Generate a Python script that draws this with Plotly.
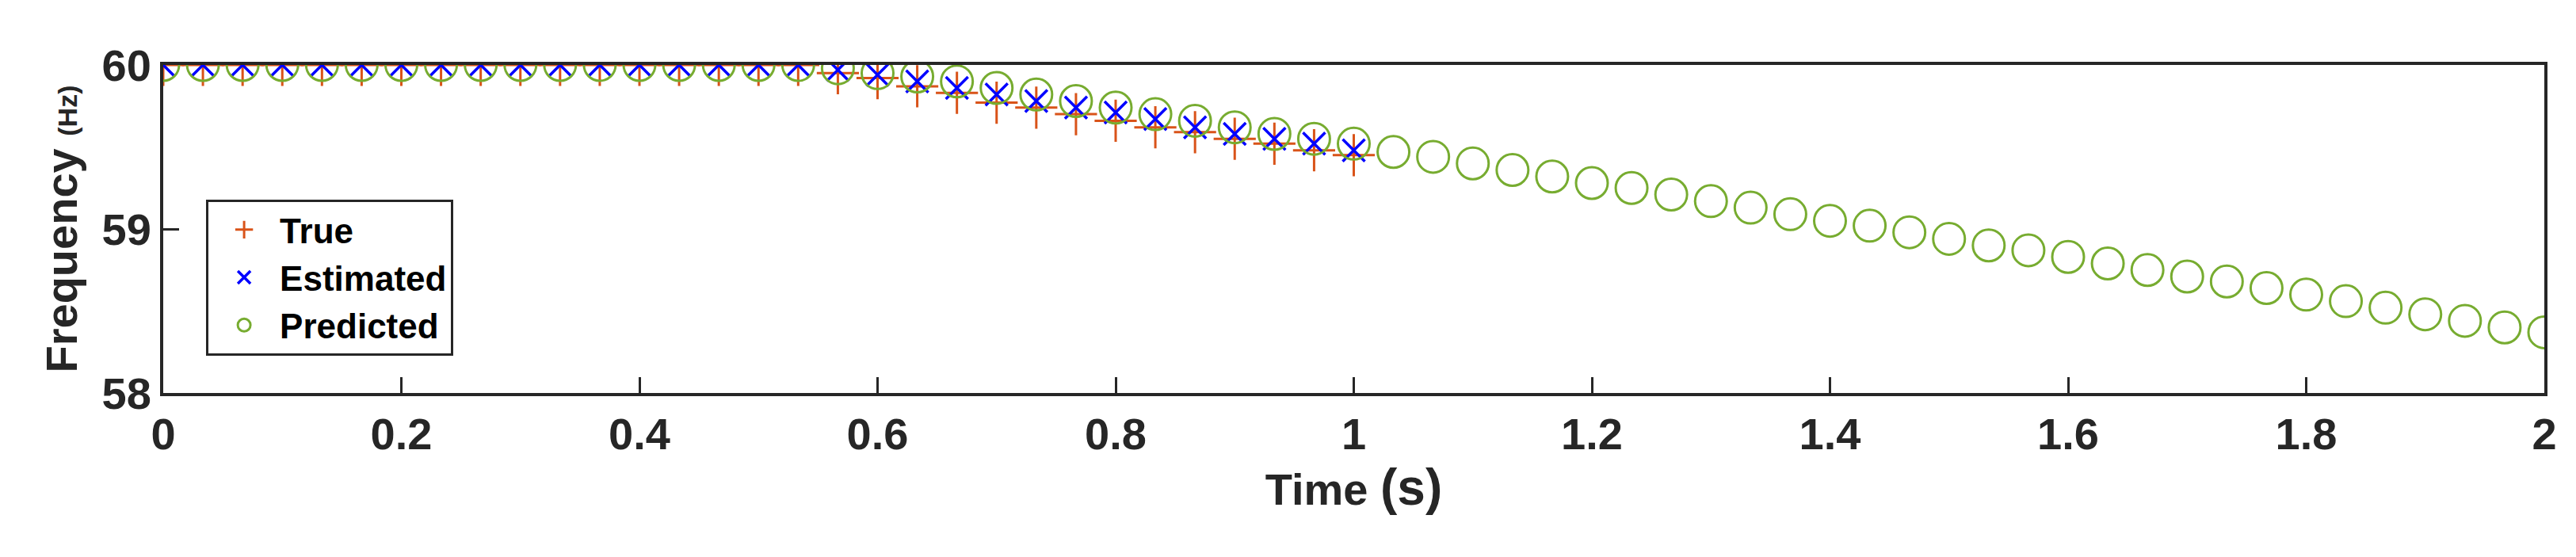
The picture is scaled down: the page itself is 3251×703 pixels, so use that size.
import plotly.graph_objects as go

t_true = [i/30 for i in range(31)]
t_pred = [i/30 for i in range(61)]
true_vals = [60]*17 + [59.95, 59.92, 59.87, 59.83, 59.77, 59.74, 59.70, 59.66, 59.62, 59.59, 59.55, 59.52, 59.48, 59.45]
est_vals = [60]*17 + [59.97, 59.94, 59.90, 59.86, 59.82, 59.78, 59.74, 59.71, 59.67, 59.62, 59.58, 59.55, 59.52, 59.48]
pred_vals = [60]*17 + [59.98, 59.95, 59.93, 59.90, 59.86, 59.82, 59.78, 59.74, 59.70, 59.66, 59.62, 59.58, 59.55, 59.52,
             59.47, 59.44, 59.40, 59.36, 59.32, 59.28, 59.25, 59.21, 59.17, 59.13, 59.09, 59.05, 59.02, 58.98, 58.94,
             58.90, 58.87, 58.83, 58.79, 58.75, 58.71, 58.68, 58.64, 58.60, 58.56, 58.52, 58.48, 58.44, 58.40, 58.37]
x_ticks = [0, 0.2, 0.4, 0.6, 0.8, 1, 1.2, 1.4, 1.6, 1.8, 2]
y_ticks = [58, 59, 60]

fig = go.Figure()
fig.add_trace(go.Scatter(x=t_true, y=true_vals, mode="markers", name="<b>True</b>",
                         marker=dict(symbol="cross-thin", size=38, line=dict(color="#D95319", width=3))))
fig.add_trace(go.Scatter(x=t_true, y=est_vals, mode="markers", name="<b>Estimated</b>",
                         marker=dict(symbol="x-thin", size=28, line=dict(color="#0000FF", width=3.5))))
fig.add_trace(go.Scatter(x=t_pred, y=pred_vals, mode="markers", name="<b>Predicted</b>",
                         marker=dict(symbol="circle-open", size=40, color="#77AC30", line=dict(width=3))))

axis_common = dict(showgrid=False, zeroline=False, showline=True, linecolor="#262626", linewidth=4,
                   mirror=True, ticks="inside", ticklen=20, tickwidth=3, tickcolor="#262626",
                   tickfont=dict(family="Liberation Sans", size=56, color="#262626", weight="bold"))
fig.update_xaxes(range=[0, 2], tickvals=x_ticks, ticktext=[str(v) for v in x_ticks],
                 title=dict(text="<b>Time <span style='font-size:64px'>(s)</span></b>",
                            font=dict(family="Liberation Sans", size=56, color="#262626"), standoff=18),
                 **axis_common)
fig.update_yaxes(range=[58, 60], tickvals=y_ticks,
                 title=dict(text="<b>Frequency <span style='font-size:34px'>(Hz)</span></b>",
                            font=dict(family="Liberation Sans", size=56, color="#262626"), standoff=14),
                 **axis_common)
fig.update_layout(width=3251, height=703, plot_bgcolor="white", paper_bgcolor="white",
                  margin=dict(l=198, r=48, t=74, b=215),
                  font=dict(family="Liberation Sans"),
                  legend=dict(x=0.018, y=0.59, xanchor="left", yanchor="top", bgcolor="white",
                              bordercolor="#262626", borderwidth=3,
                              font=dict(family="Liberation Sans", size=44, color="black"),
                              itemwidth=80, tracegroupgap=0))
fig.write_html("out.html")
